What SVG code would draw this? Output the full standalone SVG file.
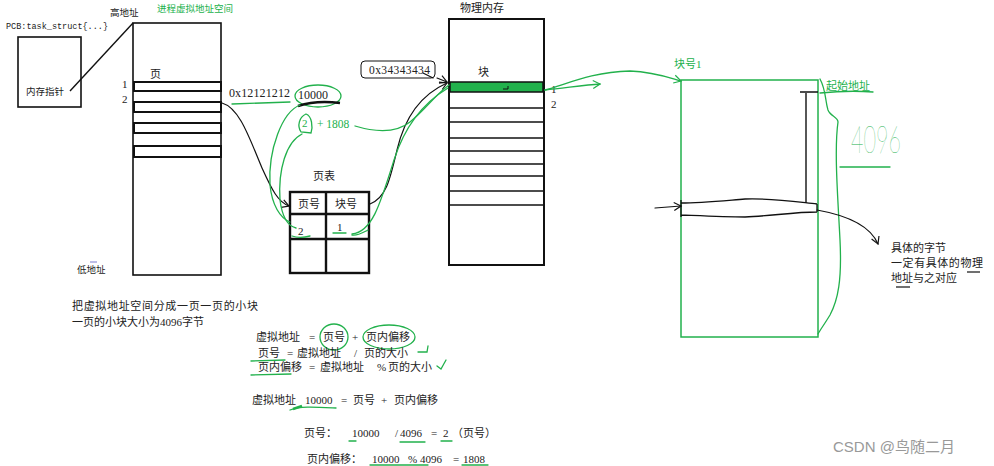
<svg xmlns="http://www.w3.org/2000/svg" width="994" height="466" viewBox="0 0 994 466">
<style>
.t{font-family:'Liberation Serif','Noto Sans CJK SC',serif;font-size:11px;fill:#222}
.m{font-family:'Liberation Mono','Noto Sans CJK SC',monospace;font-size:8.5px;fill:#222}
.g{fill:#22b14c}
.bx{fill:none;stroke:#111;stroke-width:1.6}
.tk{fill:none;stroke:#111;stroke-width:2.4}
.gl{fill:none;stroke:#22b14c;stroke-width:1.3;stroke-linecap:round}
.bl{fill:none;stroke:#111;stroke-width:1.2;stroke-linecap:round}
</style>
<defs>
<marker id="ab" markerWidth="10" markerHeight="10" refX="8" refY="5" orient="auto" markerUnits="userSpaceOnUse"><path d="M1,1 L8,5 L1,9" fill="none" stroke="#111" stroke-width="1.2"/></marker>
<marker id="ag" markerWidth="10" markerHeight="10" refX="8" refY="5" orient="auto" markerUnits="userSpaceOnUse"><path d="M1,1 L8,5 L1,9" fill="none" stroke="#22b14c" stroke-width="1.2"/></marker>
</defs>
<rect width="994" height="466" fill="#fff"/>

<g id="pcb">
<text class="m" x="6" y="29">PCB:task_struct{...}</text>
<rect class="bx" x="18" y="37" width="63" height="70"/>
<text class="t" x="26" y="95" style="font-size:9.5px">内存指针</text>
</g>

<g id="virtual-space">
<text class="t" x="110" y="16" style="font-size:9.5px">高地址</text>
<text class="t g" x="157" y="12" style="font-size:9.5px">进程虚拟地址空间</text>
<rect class="bx" x="133" y="23" width="88" height="252"/>
<text class="t" x="150" y="78">页</text>
<text class="t" x="122" y="88">1</text>
<text class="t" x="122" y="103">2</text>
<rect class="tk" x="134" y="82" width="87" height="9" style="stroke-width:2"/>
<rect class="tk" x="134" y="102" width="87" height="10" style="stroke-width:2"/>
<rect class="tk" x="134" y="123" width="87" height="10" style="stroke-width:2"/>
<rect class="tk" x="134" y="146" width="87" height="11" style="stroke-width:2"/>
<text class="t" x="77" y="273" style="font-size:9.5px">低地址</text>
<line x1="90" y1="262" x2="97" y2="262" stroke="#7a7acc" stroke-width="1"/>
</g>

<g id="note">
<text class="t" x="72" y="310" textLength="186">把虚拟地址空间分成一页一页的小块</text>
<text class="t" x="72" y="326">一页的小块大小为4096字节</text>
</g>

<g id="page-table">
<text class="t" x="313" y="180">页表</text>
<rect class="tk" x="290" y="192" width="79" height="81"/>
<line class="tk" x1="290" y1="214" x2="369" y2="214"/>
<line class="tk" x1="290" y1="239" x2="369" y2="239"/>
<line class="tk" x1="326" y1="192" x2="326" y2="273"/>
<text class="t" x="298" y="208">页号</text>
<text class="t" x="335" y="208">块号</text>
<text class="t" x="298" y="235">2</text>
<text class="t" x="337" y="231">1</text>
<path class="gl" d="M292,236 C298,238 306,237 310,236"/>
<path class="gl" d="M333,233 L346,233 M352,235 C358,236 362,233 368,230"/>
</g>

<g id="addr-labels">
<text class="t" x="229" y="97" textLength="61" style="font-size:12px">0x12121212</text>
<text class="t" x="298" y="99" style="font-size:12px">10000</text>
<ellipse class="gl" cx="318" cy="96" rx="23" ry="11"/>
<path class="gl" d="M232,104 L290,102"/>
<path d="M298,106 C310,102 325,101 340,103" fill="none" stroke="#111" stroke-width="2.5"/>
<text class="t g" x="302" y="127" style="font-size:11px">2</text>
<path class="gl" d="M301,132 C297,126 299,117 306,114 C312,116 313,127 311,133 Z"/>
<text class="t g" x="317" y="128" style="font-size:11.5px">+ 1808</text>
</g>

<g id="physical-memory">
<text class="t" x="460" y="12">物理内存</text>
<rect class="tk" x="449" y="19" width="95" height="246" style="stroke-width:2"/>
<text class="t" x="478" y="76">块</text>
<rect x="450" y="82" width="93" height="10" fill="#22b14c" stroke="#111" stroke-width="1.5"/>
<path d="M503,89 L508,89 L508,86" fill="none" stroke="#111" stroke-width="1"/>
<g stroke="#111" stroke-width="1.5">
<line x1="450" y1="108" x2="543" y2="108"/>
<line x1="450" y1="122" x2="543" y2="122"/>
<line x1="450" y1="138" x2="543" y2="138"/>
<line x1="450" y1="151" x2="543" y2="151"/>
<line x1="450" y1="164" x2="543" y2="164"/>
<line x1="450" y1="176" x2="543" y2="176"/>
<line x1="450" y1="191" x2="543" y2="191"/>
<line x1="450" y1="205" x2="543" y2="205"/>
</g>
<text class="t" x="551" y="93">1</text>
<text class="t" x="551" y="108">2</text>
<rect x="361" y="61" width="74" height="17" rx="4" fill="none" stroke="#111" stroke-width="1"/>
<text class="t" x="369" y="74" textLength="61" style="font-size:11.5px">0x34343434</text>
</g>

<g id="block1">
<text class="t g" x="674" y="68">块号1</text>
<rect x="681" y="80" width="137" height="257" fill="none" stroke="#22b14c" stroke-width="1.5"/>
<text class="t g" x="826" y="90">起始地址</text>
<path class="gl" d="M820,93 C840,91 860,91 873,92"/>
<text x="851" y="153" textLength="50" lengthAdjust="spacingAndGlyphs" style="font-family:'Lato','Open Sans',sans-serif;font-weight:100;font-size:38px;fill:#22b14c">4096</text>
<path class="gl" d="M840,167 L890,167"/>
<path class="gl" d="M820,79 C826,90 825,100 828,110 C830,116 838,117 838,122 C834,150 838,200 840,240 C842,280 838,300 830,315 C824,325 820,330 818,334"/>
<path d="M800,92 L818,92 M806,93 L806,203" fill="none" stroke="#111" stroke-width="1.4"/>
<path d="M681,203 C700,203 720,201 745,199 C770,198 790,201 817,204 M681,215 C705,216 725,217 745,217 C770,216 795,212 817,212 M681,200 L681,217 M817,204 L817,212" fill="none" stroke="#111" stroke-width="1.3"/>
<text class="t" x="891" y="252">具体的字节</text>
<text class="t" x="891" y="267" textLength="92">一定有具体的物理</text>
<text class="t" x="891" y="282">地址与之对应</text>
<line x1="967" y1="272" x2="980" y2="272" stroke="#111" stroke-width="1.2"/>
<line x1="896" y1="287" x2="910" y2="287" stroke="#111" stroke-width="1.2"/>
</g>

<g id="formulas" class="t">
<text x="256" y="341">虚拟地址<tspan x="309">=</tspan><tspan x="323">页号</tspan><tspan x="352">+</tspan><tspan x="366">页内偏移</tspan></text>
<ellipse class="gl" cx="334" cy="337" rx="14" ry="13"/>
<ellipse class="gl" cx="389" cy="337" rx="26" ry="12"/>
<text x="258" y="357">页号<tspan x="287">=</tspan><tspan x="297">虚拟地址</tspan><tspan x="354">/</tspan><tspan x="364">页的大小</tspan></text>
<path class="gl" d="M251,361 L285,360 M418,352 L427,352 L428,346"/>
<text x="258" y="371">页内偏移<tspan x="309">=</tspan><tspan x="320">虚拟地址</tspan><tspan x="377">%</tspan><tspan x="388">页的大小</tspan></text>
<path class="gl" d="M251,375 L291,374 M437,366 L441,369 L446,360"/>
<text x="252" y="404">虚拟地址<tspan x="305">10000</tspan><tspan x="341">=</tspan><tspan x="353">页号</tspan><tspan x="381">+</tspan><tspan x="394">页内偏移</tspan></text>
<path class="gl" d="M290,410 C300,406 315,407 336,408"/>
<path d="M293,409 L302,406" stroke="#22b14c" stroke-width="2.5"/>
<text x="304" y="437">页号：<tspan x="352">10000</tspan><tspan x="395">/</tspan><tspan x="400">4096</tspan><tspan x="431">=</tspan><tspan x="443">2</tspan><tspan x="452">（页号）</tspan></text>
<path class="gl" d="M349,441 L356,441 M400,442 L425,442 M441,441 L452,441"/>
<text x="307" y="463">页内偏移：<tspan x="372">10000</tspan><tspan x="408">%</tspan><tspan x="420">4096</tspan><tspan x="453">=</tspan><tspan x="463">1808</tspan></text>
<path class="gl" d="M370,465 L428,465 M462,465 L488,465"/>
</g>

<g id="connectors">
<line x1="70" y1="91" x2="133" y2="23" stroke="#111" stroke-width="1.4"/>
<path class="bl" d="M222,103 C240,108 250,140 262,168 C272,190 278,202 289,206" marker-end="url(#ab)"/>
<path class="bl" d="M370,204 C386,198 390,180 397,150 C404,120 420,95 447,83" marker-end="url(#ab)"/>
<path class="bl" d="M423,73 L433,78 M437,78 L447,82" marker-end="url(#ab)"/>
<path class="gl" d="M300,105 C282,112 268,150 270,185 C272,205 280,218 290,222"/>
<path class="gl" d="M302,134 C286,142 278,170 280,200 C282,216 288,226 296,228"/>
<path class="gl" d="M352,234 C372,232 380,205 394,160 C406,122 428,100 448,88"/>
<path class="gl" d="M355,126 C375,132 395,134 410,122 C425,110 435,95 449,85"/>
<path class="gl" d="M545,90 C565,85 590,72 630,71 C655,72 670,78 681,81" marker-end="url(#ag)"/>
<path class="gl" d="M545,90 C565,88 585,85 600,84" marker-end="url(#ag)"/>
<path class="bl" d="M655,208 L681,206" marker-end="url(#ab)"/>
<path class="bl" d="M817,210 C845,215 870,225 878,244" marker-end="url(#ab)"/>
</g>

<text x="833" y="452" style="font-family:'Liberation Sans','Noto Sans CJK SC',sans-serif;font-size:15px;fill:#999">CSDN @鸟随二月</text>
</svg>
